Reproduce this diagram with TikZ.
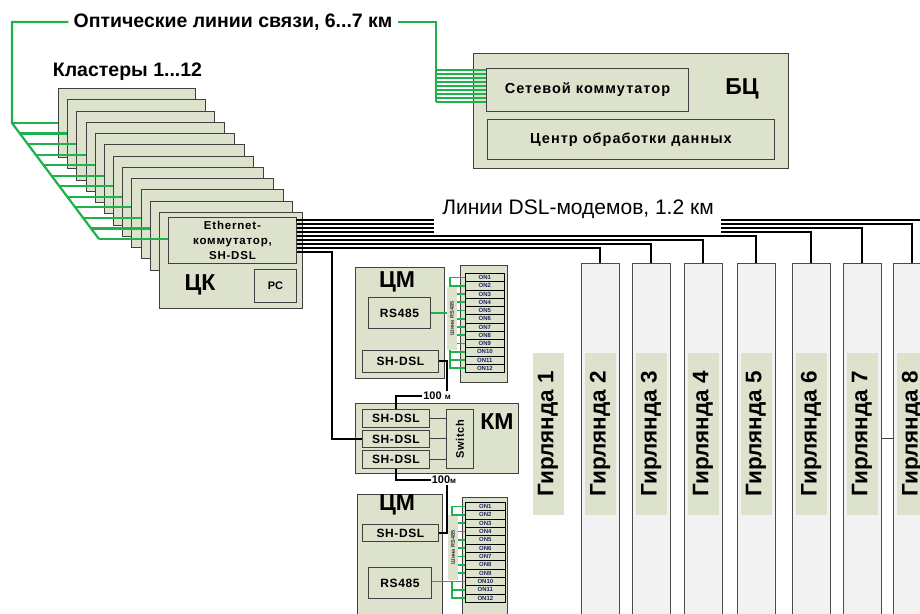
\documentclass[tikz,border=0pt]{standalone}
\usepackage{fontspec}
\setmainfont{Liberation Sans}
\newfontfamily\lsp[LetterSpace=5]{Liberation Sans}
\newfontfamily\lspw[LetterSpace=7]{Liberation Sans}
\usetikzlibrary{calc}
\definecolor{bx}{RGB}{221,226,205}
\definecolor{gr}{RGB}{30,178,76}
\definecolor{onc}{RGB}{30,40,95}
\newcommand\myfs[2]{\fontsize{#1}{#2}\selectfont}
\tikzset{
 cbox/.style={draw=black!75, fill=bx, line width=0.9pt, inner sep=0pt, anchor=north west},
 garbox/.style={draw=black!70, fill=black!5, line width=0.9pt, inner sep=0pt, anchor=north west, minimum width=38, minimum height=370},
 garlbl/.style={fill=bx, rotate=90, minimum width=162, minimum height=31, inner sep=0pt, font=\bfseries\myfs{22.5}{26}},
 gline/.style={draw=gr, line width=2.2pt},
 gthin/.style={draw=gr, line width=1.8pt},
 bline/.style={draw=black, line width=2pt},
 tline/.style={draw=black!75, line width=1pt},
 bigtxt/.style={font=\bfseries\myfs{23}{26}, inner sep=0pt},
 smtxt/.style={font=\lsp\bfseries\myfs{12}{14}},
 onbox/.style={draw=black, line width=0.7pt, fill=bx, inner sep=0pt, anchor=north west, font=\bfseries\myfs{6}{7}, text=onc},
 buslbl/.style={fill=bx, rotate=90, inner sep=0pt, font=\bfseries\myfs{5.5}{6}, text=black!80},
 lbl100/.style={fill=white, inner sep=1pt, font=\bfseries\myfs{11}{12}},
}
\begin{document}
\begin{tikzpicture}[x=1pt,y=-1pt]
\useasboundingbox (0,0) rectangle (920,613);
\clip (0,0) rectangle (920,613);

% ---------- clusters ----------
\node[font=\bfseries\myfs{19.5}{22}] (kl) at (127.5,72) {Кластеры 1...12};
\foreach \i in {1,...,11}{
  \pgfmathsetmacro\cx{58+9.18*(\i-1)}
  \pgfmathsetmacro\cy{88+11.27*(\i-1)}
  \pgfmathsetmacro\cw{137+0.55*(\i-1)}
  \node[cbox, minimum width=\cw, minimum height=69] (c\i) at (\cx,\cy) {};
}
\node[cbox, minimum width=143, minimum height=96] (c12) at (159,212) {};
\node[cbox, minimum width=128, minimum height=46, align=center, font=\lspw\bfseries\myfs{11.5}{15}] (eth) at (168,217) {Ethernet-\\коммутатор,\\SH-DSL};
\node[cbox, minimum width=42, minimum height=33, font=\bfseries\myfs{11}{13}] (pc) at (254,269) {PC};
\node[bigtxt] (ck) at (200,285) {ЦК};

% ---------- BC ----------
\node[cbox, minimum width=315, minimum height=115] (bc) at (473,53) {};
\node[cbox, minimum width=202, minimum height=43, font=\lspw\bfseries\myfs{14.5}{16}] (sw) at (486,68) {Сетевой коммутатор};
\node[cbox, minimum width=287, minimum height=40, font=\lspw\bfseries\myfs{14.5}{16}] (dc) at (487,119) {Центр обработки данных};
\node[bigtxt] (bcl) at (742,89) {БЦ};

% ---------- optical lines ----------
\node[font=\bfseries\myfs{19.5}{22}, inner sep=5pt] (opt) at (233,22) {Оптические линии связи, 6...7 км};
\coordinate (o1) at (12,22);
\coordinate (g1) at (12,123);
\coordinate (g12) at (99,239);
\coordinate (o2) at (436,22);
\coordinate (o3) at (436,102);
\draw[gline] (opt.west) -- (o1) -- (g1) -- (g12);
\draw[gline] (opt.east) -- (o2) -- (o3);
\foreach \i in {1,...,11}{
  \pgfmathsetmacro\tfr{(\i-1)/11}
  \coordinate (g\i) at ($(g1)!\tfr!(g12)$);
  \draw[gline] (g\i) -- (g\i -| c\i.west);
}
\draw[gline] (g12) -- (g12 -| eth.west);
\foreach \k in {0,...,8}{
  \pgfmathsetmacro\yy{70+4*\k}
  \coordinate (b\k) at (436,\yy);
  \draw[gthin] (b\k) -- (b\k -| sw.west);
}

% ---------- garlands ----------
\foreach \n/\xl in {2/581,3/632,4/684,5/737,6/792,7/843,8/893}{
  \node[garbox] (G\n) at (\xl,263) {};
}
\draw[tline] (G7.east |- 0,438) -- (G8.west |- 0,438);
\foreach \n/\xc in {1/548,2/600,3/651,4/703,5/756,6/811,7/862,8/912}{
  \node[garlbl] (L\n) at (\xc,434) {Гирлянда \n};
}

% ---------- KM ----------
\node[cbox, minimum width=163, minimum height=70] (km) at (355,403) {};
\node[cbox, minimum width=67, minimum height=18, smtxt] (kmA) at (362,409) {SH-DSL};
\node[cbox, minimum width=67, minimum height=17, smtxt] (kmB) at (362,430) {SH-DSL};
\node[cbox, minimum width=67, minimum height=18, smtxt] (kmC) at (362,450) {SH-DSL};
\node[cbox, minimum width=27, minimum height=59] (swt) at (446,409) {};
\node[rotate=90, font=\lsp\bfseries\myfs{11}{12}] (swtl) at (swt.center) {Switch};
\node[bigtxt] (kml) at (497,422) {КМ};
\draw[tline] (kmA.east) -- (kmA.east -| swt.west);
\draw[tline] (kmB.east) -- (kmB.east -| swt.west);
\draw[tline] (kmC.east) -- (kmC.east -| swt.west);

% ---------- DSL lines ----------
\coordinate (d0) at (296,219.5);
\coordinate (dend) at (925,219.5);
\draw[bline] (d0) -- (dend);
\foreach \k/\n in {1/8,2/7,3/6,4/5,5/4,6/3,7/2}{
  \pgfmathsetmacro\yy{219.5+4*\k}
  \coordinate (d\k) at (eth.east |- 0,\yy);
  \draw[bline] (d\k) -| (G\n.north);
}
\coordinate (kmc) at (332,251.5);
\draw[bline] (eth.east |- kmc) -- (kmc) |- (kmB.west);
\fill[white] (434,193) rectangle (721,233.4);
\node[font=\myfs{21}{24}] (dsl) at (578,209) {Линии DSL-модемов, 1.2 км};

% ---------- CM top ----------
\node[cbox, minimum width=89, minimum height=111] (cm1) at (355,267) {};
\node[bigtxt] (cm1l) at (397,282) {ЦМ};
\node[cbox, minimum width=62, minimum height=31, smtxt] (rs1) at (368,297) {RS485};
\node[cbox, minimum width=76, minimum height=22, smtxt] (sh1) at (362,350) {SH-DSL};
\node[buslbl, minimum width=63, minimum height=10] (bus1) at (452,318.5) {Шина RS485};
\node[cbox, minimum width=47, minimum height=117] (oc1) at (460,265) {};
\foreach \k in {1,...,12}{
  \pgfmathsetmacro\oy{273+8.25*(\k-1)}
  \node[onbox, minimum width=39, minimum height=8.25] (a\k) at (465,\oy) {ON\k};
}
\draw[gthin] (rs1.east) -- (rs1.east -| bus1.north);
\foreach \k in {3,...,9}{
  \draw[gthin] (a\k.west -| bus1.south) -- (a\k.west);
}
\draw[gthin] (a1.west) -- ++(-15,0) |- (a2.west);
\coordinate (br1) at (450,350);
\draw[gthin] (br1) |- (a12.west);
\draw[gthin] (br1 |- a10.west) -- (a10.west);
\draw[gthin] (br1 |- a11.west) -- (a11.west);

% ---------- CM bottom ----------
\node[cbox, minimum width=85, minimum height=130] (cm2) at (357,494) {};
\node[bigtxt] (cm2l) at (397,505) {ЦМ};
\node[cbox, minimum width=76, minimum height=17, smtxt] (shb) at (362,524) {SH-DSL};
\node[cbox, minimum width=63, minimum height=31, smtxt] (rsb) at (368,567) {RS485};
\node[buslbl, minimum width=65, minimum height=10] (bus2) at (453,547.5) {Шина RS485};
\node[cbox, minimum width=45, minimum height=130] (oc2) at (462,497) {};
\foreach \k in {1,...,12}{
  \pgfmathsetmacro\oy{502+8.33*(\k-1)}
  \node[onbox, minimum width=40, minimum height=8.33] (b\k) at (465,\oy) {ON\k};
}
\foreach \k in {3,...,9}{
  \draw[gthin] (b\k.west -| bus2.south) -- (b\k.west);
}
\draw[gthin] (b1.west) -- ++(-13,0) |- (b2.west);
\draw[gthin] (rsb.east |- b10.west) -- (b10.west);
\coordinate (br2) at (452,0);
\draw[gthin] (br2 |- b10.west) |- (b12.west);
\draw[gthin] (br2 |- b11.west) -- (b11.west);

% ---------- CM <-> KM links ----------
\coordinate (t1) at (447,396);
\draw[bline] (sh1.east) -- (sh1.east -| t1) -- (t1) -- (t1 -| kmA.north) -- (kmA.north);
\node[lbl100] (l1) at (437,396) {100 {\myfs{8}{9}м}};
\coordinate (t2) at (447,480);
\draw[bline] (kmC.south) |- (t2) -- (t2 |- shb.east) -- (shb.east);
\node[lbl100] (l2) at (444,480) {100{\myfs{8}{9}м}};
\end{tikzpicture}
\end{document}
